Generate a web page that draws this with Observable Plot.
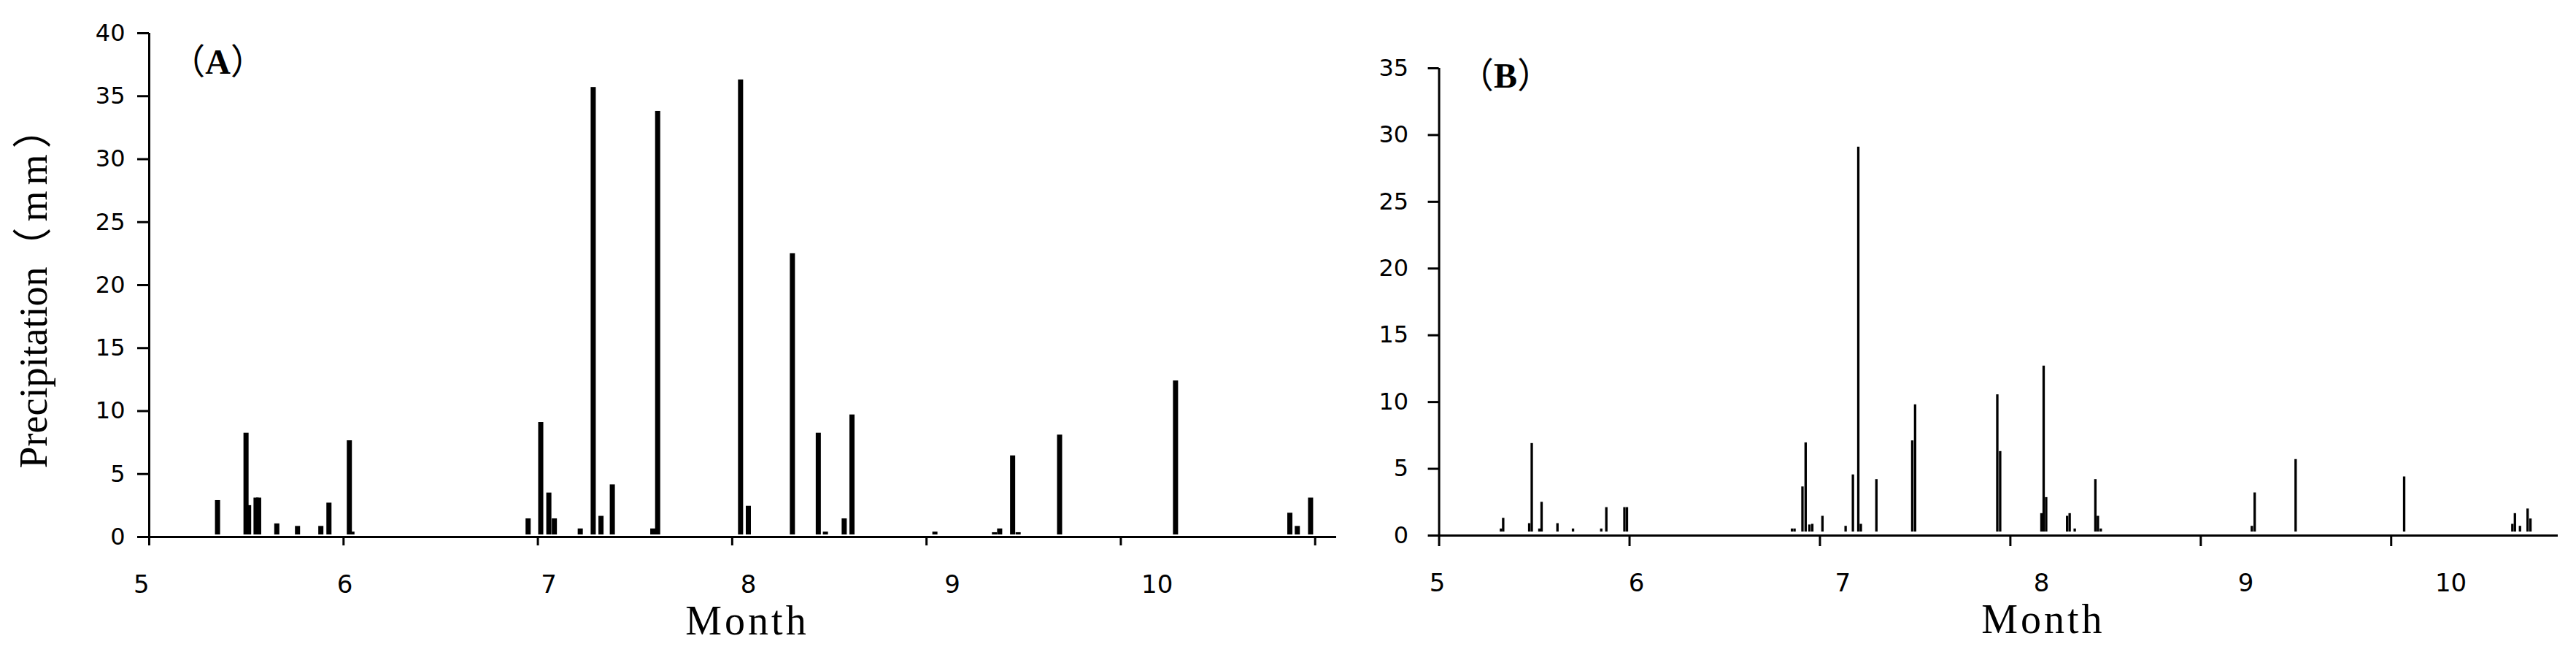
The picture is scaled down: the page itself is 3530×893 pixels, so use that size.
<!DOCTYPE html>
<html>
<head>
<meta charset="utf-8">
<script src="https://cdn.jsdelivr.net/npm/d3@7"></script>
<script src="https://cdn.jsdelivr.net/npm/@observablehq/plot@0.6"></script>
<style>
html,body{margin:0;padding:0;background:#fff;}
#wrap{position:relative;width:3530px;height:893px;overflow:hidden;background:#fff;}
#wrap svg{position:absolute;top:0;}
</style>
</head>
<body>
<div id="wrap"></div>
<script>
// ---------- data ----------
const monthLabels = ["5", "6", "7", "8", "9", "10"];
// day-of-season positions (days after 1 May) where the month labels sit
const monthLabelDayA = [-1.2, 30.2, 61.7, 92.5, 124.0, 155.6];
const monthLabelDayB = [-0.3, 31.1, 63.6, 94.9, 127.1, 159.4];
const xTickDaysA = [0, 30, 60, 90, 120, 150, 180];
const xTickDaysB = [0, 30, 60, 90, 120, 150];
const yTicksA = [0, 5, 10, 15, 20, 25, 30, 35, 40];
const yTicksB = [0, 5, 10, 15, 20, 25, 30, 35];
const panelLabels = ["（A）", "（B）"];
const yTitle = "Precipitation（mm）";
const xTitle = "Month";

// Panel A: event day and precipitation (mm)
const dayA = [10.6, 15.0, 15.4, 16.55, 16.95, 19.75, 22.95, 26.55, 27.8, 30.95, 31.35,
  58.55, 60.5, 61.75, 62.6, 66.6, 68.6, 69.8, 71.55, 77.8, 78.55,
  91.35, 92.55, 99.35, 103.35, 104.45, 107.35, 108.55, 121.35,
  130.55, 131.35, 133.35, 134.2, 140.6, 158.5, 176.15, 177.3, 179.35];
const rainA = [2.9, 8.25, 2.5, 3.1, 3.1, 1.05, 0.85, 0.85, 2.7, 7.65, 0.4,
  1.45, 9.1, 3.5, 1.45, 0.65, 35.7, 1.65, 4.15, 0.65, 33.8,
  36.3, 2.45, 22.5, 8.25, 0.4, 1.45, 9.7, 0.4,
  0.35, 0.65, 6.45, 0.35, 8.1, 12.4, 1.9, 0.85, 3.1];

// Panel B: event day and precipitation (mm)
const dayB = [9.8, 10.15, 14.25, 14.65, 15.85, 16.2, 18.7, 21.15, 25.6, 26.4, 29.25, 29.65,
  55.65, 56.05, 57.3, 57.8, 58.4, 58.85, 60.45, 64.1, 65.25, 66.1, 66.5, 68.95,
  74.6, 75.05, 88.0, 88.45, 94.95, 95.3, 95.7, 99.0, 99.4, 100.2,
  103.45, 103.85, 104.3, 128.1, 128.55, 135.0, 152.1,
  169.15, 169.55, 170.35, 171.55, 172.0];
const rainB = [0.5, 1.3, 0.9, 6.9, 0.5, 2.5, 0.9, 0.5, 0.5, 2.1, 2.1, 2.1,
  0.5, 0.5, 3.65, 6.95, 0.8, 0.85, 1.45, 0.7, 4.55, 29.1, 0.85, 4.2,
  7.1, 9.8, 10.55, 6.3, 1.65, 12.7, 2.85, 1.45, 1.65, 0.5,
  4.2, 1.45, 0.5, 0.7, 3.2, 5.7, 4.4,
  0.85, 1.65, 0.7, 2.0, 1.25];

// ---------- drawing ----------
const SERIF = "'Times New Roman', 'Liberation Serif', 'Noto Sans CJK SC', serif";
const SANS = "'DejaVu Sans', Verdana, sans-serif";
const CJK = "'Noto Sans CJK SC', 'Noto Sans CJK JP', sans-serif";
const SVGNS = "http://www.w3.org/2000/svg";

// put full-width characters in a CJK tspan so they keep their full-width advance
function splitFullwidth(t, tailSpacing) {
  const s = t.textContent;
  const segs = s.match(/[\uFF01-\uFF60]+|[^\uFF01-\uFF60]+/g) || [];
  t.textContent = "";
  let seenWide = false;
  for (const seg of segs) {
    const sp = document.createElementNS(SVGNS, "tspan");
    sp.textContent = seg;
    const wide = /[\uFF01-\uFF60]/.test(seg);
    if (wide) { sp.setAttribute("font-family", CJK); sp.setAttribute("font-weight", "normal"); seenWide = true; }
    if (seenWide && tailSpacing) sp.setAttribute("letter-spacing", tailSpacing);
    t.appendChild(sp);
  }
}

function panel(o) {
  const bars = o.days.map((day, i) => ({day, mm: o.rain[i]}));
  const labelOf = new Map(o.labelDays.map((d, i) => [d, monthLabels[i]]));
  const marks = [
    Plot.rectY(bars, {
      x1: d => d.day - o.barW / 2,
      x2: d => d.day + o.barW / 2,
      y1: 0, y2: "mm",
      fill: "black",
      insetBottom: o.inset
    }),
    Plot.ruleX([0], {stroke: "black", strokeWidth: 3}),
    Plot.ruleY([0], {stroke: "black", strokeWidth: 3}),
    Plot.axisY({
      ticks: o.yTicks, tickSize: o.yTickSize, tickPadding: o.yTickPadding,
      strokeWidth: 3, fontSize: 32, fontFamily: SANS, label: null
    }),
    Plot.axisX({
      ticks: o.xTicks, tickSize: o.xTickSize, tickFormat: () => "",
      strokeWidth: 3, label: null
    }),
    Plot.axisX({
      ticks: o.labelDays, tickSize: 0, tickPadding: 52,
      tickFormat: d => labelOf.get(d),
      fontSize: 34, fontFamily: SANS, label: null
    }),
    Plot.text([o.panelLabel], {
      frameAnchor: "top-left", dx: o.plDx, dy: o.plDy,
      textAnchor: "middle", lineAnchor: "bottom",
      fontSize: 48, fontWeight: "bold", fontFamily: SERIF
    }),
    Plot.text([xTitle], {
      frameAnchor: "bottom", dx: o.monthDx, dy: 133,
      lineAnchor: "bottom", fontSize: 56, fontFamily: SERIF
    })
  ];
  if (o.yTitle) {
    marks.push(Plot.text([o.yTitle], {
      frameAnchor: "left", dx: -141, dy: 251, rotate: -90,
      textAnchor: "start", lineAnchor: "bottom",
      fontSize: 54, fontFamily: SERIF
    }));
  }
  const svg = Plot.plot({
    width: o.width, height: 893,
    marginLeft: o.marginLeft, marginRight: o.marginRight,
    marginTop: o.marginTop, marginBottom: 893 - o.zeroY,
    style: {background: "white", color: "black", fontFamily: SANS, overflow: "visible"},
    x: {domain: [0, o.xMax]},
    y: {domain: [0, o.yMax]},
    marks
  });
  svg.querySelectorAll("text").forEach(t => {
    const s = t.textContent;
    if (s === xTitle) t.setAttribute("letter-spacing", "4");
    else if (s === yTitle) splitFullwidth(t, "8");
    else if (panelLabels.includes(s)) splitFullwidth(t, null);
  });
  svg.style.left = o.left + "px";
  return svg;
}

const wrap = document.getElementById("wrap");
wrap.appendChild(panel({
  left: 0, width: 1850, marginLeft: 204, marginRight: 19, marginTop: 45, zeroY: 735,
  xMax: 183.3, yMax: 40, yTicks: yTicksA, xTicks: xTickDaysA, labelDays: monthLabelDayA,
  days: dayA, rain: rainA, barW: 0.79, inset: 3,
  yTickSize: 16, yTickPadding: 17, xTickSize: 12,
  panelLabel: panelLabels[0], plDx: 94, plDy: 55, monthDx: 6, yTitle: yTitle
}));
wrap.appendChild(panel({
  left: 1850, width: 1680, marginLeft: 121.6, marginRight: 25, marginTop: 93, zeroY: 733,
  xMax: 176.3, yMax: 35, yTicks: yTicksB, xTicks: xTickDaysB, labelDays: monthLabelDayB,
  days: dayB, rain: rainB, barW: 0.38, inset: 5,
  yTickSize: 15, yTickPadding: 27, xTickSize: 15,
  panelLabel: panelLabels[1], plDx: 91, plDy: 26, monthDx: 61, yTitle: null
}));
</script>
</body>
</html>
